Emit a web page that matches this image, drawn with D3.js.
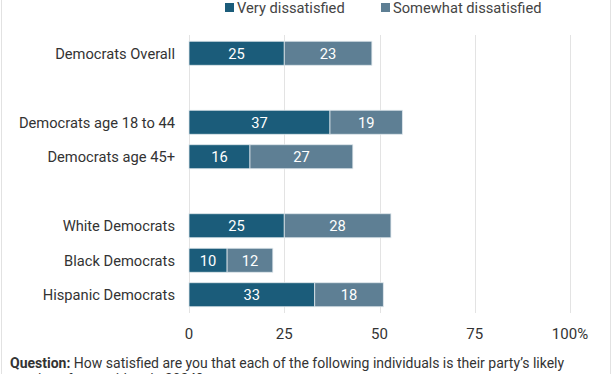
<!DOCTYPE html>
<html>
<head>
  <meta charset="utf-8">
  <script src="https://cdn.jsdelivr.net/npm/d3@7"></script>
  <style>
    body { margin: 0; background: #fff; }
    text { font-family: Roboto, sans-serif; }
  </style>
</head>
<body>
<script>
// rows in order, blanks are spacer slots
var groups = ["Democrats Overall", "", "Democrats age 18 to 44", "Democrats age 45+", " ", "White Democrats", "Black Democrats", "Hispanic Democrats"];
var veryDissatisfied = [25, null, 37, 16, null, 25, 10, 33];
var somewhatDissatisfied = [23, null, 19, 27, null, 28, 12, 18];
var seriesNames = ["Very dissatisfied", "Somewhat dissatisfied"];
var tickValues = [0, 25, 50, 75, 100];

var width = 612, height = 374;
var margin = {left: 189, top: 36, right: 42, bottom: 62};
var colors = ["#1b5c7a", "#5e7f94"];

var svg = d3.select("body").append("svg")
    .attr("width", width)
    .attr("height", height);

var x = d3.scaleLinear().domain([0, 100]).range([margin.left, width - margin.right]);
var y = d3.scaleBand().domain(groups).range([margin.top, height - margin.bottom]).paddingInner(0.3).paddingOuter(0.15);

// side borders
svg.append("line").attr("x1", 1.5).attr("x2", 1.5).attr("y1", 0).attr("y2", height).attr("stroke", "#e2e2e2");
svg.append("line").attr("x1", 610.5).attr("x2", 610.5).attr("y1", 0).attr("y2", height).attr("stroke", "#e2e2e2");

// gridlines
svg.append("g").selectAll("line")
  .data(tickValues)
  .enter().append("line")
    .attr("x1", function(d) { return Math.round(x(d)) + 0.5; })
    .attr("x2", function(d) { return Math.round(x(d)) + 0.5; })
    .attr("y1", margin.top - 1)
    .attr("y2", height - margin.bottom + 1)
    .attr("stroke", "#e3e3e3");

// tick labels
svg.append("g").selectAll("text")
  .data(tickValues)
  .enter().append("text")
    .attr("x", function(d) { return x(d); })
    .attr("y", 339)
    .attr("text-anchor", "middle")
    .attr("font-size", 15)
    .attr("fill", "#333")
    .text(function(d) { return d === 100 ? "100%" : d; });

var rows = groups.map(function(g, i) {
  return {name: g, v: veryDissatisfied[i], s: somewhatDissatisfied[i]};
}).filter(function(d) { return d.v != null; });

var segs = [];
rows.forEach(function(r) {
  segs.push({name: r.name, x0: 0, x1: r.v, val: r.v, k: 0});
  segs.push({name: r.name, x0: r.v, x1: r.v + r.s, val: r.s, k: 1});
});

var bh = 24;
svg.append("g").selectAll("rect")
  .data(segs)
  .enter().append("rect")
    .attr("x", function(d) { return x(d.x0); })
    .attr("width", function(d) { return x(d.x1) - x(d.x0); })
    .attr("y", function(d) { return y(d.name) + y.bandwidth() / 2 - bh / 2; })
    .attr("height", bh)
    .attr("fill", function(d) { return colors[d.k]; })
    .attr("stroke", "#dfe7ec")
    .attr("stroke-width", 0.8);

svg.append("g").selectAll("text")
  .data(segs)
  .enter().append("text")
    .attr("x", function(d) { return (x(d.x0) + x(d.x1)) / 2; })
    .attr("y", function(d) { return y(d.name) + y.bandwidth() / 2; })
    .attr("dy", "0.36em")
    .attr("text-anchor", "middle")
    .attr("font-size", 14.7)
    .attr("fill", "#fff")
    .text(function(d) { return d.val; });

// category labels
svg.append("g").selectAll("text")
  .data(rows)
  .enter().append("text")
    .attr("x", margin.left - 14)
    .attr("y", function(d) { return y(d.name) + y.bandwidth() / 2; })
    .attr("dy", "0.36em")
    .attr("text-anchor", "end")
    .attr("font-size", 14.7)
    .attr("fill", "#333")
    .text(function(d) { return d.name; });

// legend
var legX = [225, 381];
var leg = svg.append("g").selectAll("g")
  .data(seriesNames)
  .enter().append("g")
    .attr("transform", function(d, i) { return "translate(" + legX[i] + ",0)"; });
leg.append("rect").attr("x", 0).attr("y", 3).attr("width", 9).attr("height", 9)
    .attr("fill", function(d, i) { return colors[i]; });
leg.append("text").attr("x", 12).attr("y", 13)
    .attr("font-size", 14.7).attr("fill", "#444")
    .text(function(d) { return d; });

// footnote
var note = svg.append("text").attr("x", 10).attr("y", 368).attr("font-size", 14).attr("fill", "#333");
note.append("tspan").attr("font-weight", "bold").text("Question:");
note.append("tspan").text(" How satisfied are you that each of the following individuals is their party\u2019s likely");
svg.append("text").attr("x", 10).attr("y", 384).attr("font-size", 14).attr("fill", "#333")
    .text("nominee for president in 2024?");
</script>
</body>
</html>
